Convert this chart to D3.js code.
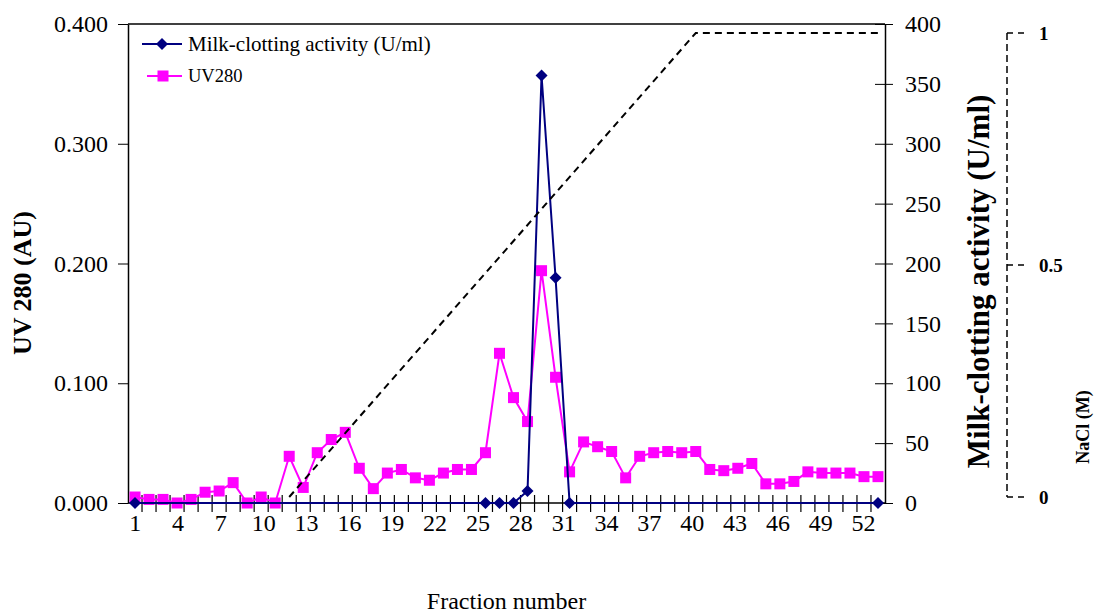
<!DOCTYPE html>
<html>
<head>
<meta charset="utf-8">
<script src="https://cdn.jsdelivr.net/npm/d3@7"></script>
<style>
  body { margin: 0; background: #fff; }
  svg { display: block; font-family: 'Liberation Serif', 'Times New Roman', serif; }
</style>
</head>
<body>
<svg id="chart"></svg>
<script>
// fraction numbers on the x axis
const fractions = [1, 2, 3, 4, 5, 6, 7, 8, 9, 10, 11, 12, 13, 14, 15, 16, 17, 18,
  19, 20, 21, 22, 23, 24, 25, 26, 27, 28, 29, 30, 31, 32, 33, 34, 35, 36,
  37, 38, 39, 40, 41, 42, 43, 44, 45, 46, 47, 48, 49, 50, 51, 52, 53, 54]
const xLabels = [1, 4, 7, 10, 13, 16, 19, 22, 25, 28, 31, 34, 37, 40, 43, 46, 49, 52]

// UV 280 (AU), one per fraction
const uv280 = [0.005, 0.003, 0.003, 0.000, 0.003, 0.009, 0.010, 0.017, 0.000, 0.005,
  0.000, 0.039, 0.013, 0.042, 0.053, 0.059, 0.029, 0.012, 0.025, 0.028,
  0.021, 0.019, 0.025, 0.028, 0.028, 0.042, 0.125, 0.088, 0.068, 0.194,
  0.105, 0.026, 0.051, 0.047, 0.043, 0.021, 0.039, 0.042, 0.043, 0.042,
  0.043, 0.028, 0.027, 0.029, 0.033, 0.016, 0.016, 0.018, 0.026, 0.025,
  0.025, 0.025, 0.022, 0.022]

// milk-clotting activity (U/ml), only measured fractions
const milkFractions = [1, 26, 27, 28, 29, 30, 31, 32, 54]
const milkActivity = [0, 0, 0, 0, 10, 357, 188, 0, 0]

// NaCl gradient (M)
const naclFractions = [12, 41, 54]
const naclConc = [0, 1, 1]

const uvTicks = [0, 0.1, 0.2, 0.3, 0.4]
const milkTicks = [0, 50, 100, 150, 200, 250, 300, 350, 400]
const naclTicks = [0, 0.5, 1]

const width = 1094
const height = 615
const plotLeft = 128
const plotRight = 885
const plotTop = 24
const plotBottom = 503

const svg = d3.select('#chart').attr('width', width).attr('height', height)

const x = d3.scaleBand().domain(fractions).range([plotLeft, plotRight])
const xLab = d3.scaleBand().domain(fractions.slice(0, 53)).range([plotLeft, plotRight])
const cx = (f) => x(f) + x.bandwidth() / 2

const yUV = d3.scaleLinear().domain([0, 0.4]).range([plotBottom, plotTop])
const yMilk = d3.scaleLinear().domain([0, 400]).range([plotBottom, plotTop])
const yNaCl = d3.scaleLinear().domain([0, 1]).range([497, 33])

// top border
svg.append('line')
  .attr('x1', plotLeft).attr('x2', plotRight)
  .attr('y1', yUV(0.4)).attr('y2', yUV(0.4))
  .attr('stroke', '#000').attr('stroke-width', 1.5)

// left axis
const leftAxis = svg.append('g')
  .attr('transform', `translate(${plotLeft},0)`)
  .call(d3.axisLeft(yUV).tickValues(uvTicks).tickFormat(d3.format('.3f'))
    .tickSize(10).tickSizeOuter(0).tickPadding(10))
leftAxis.select('.domain').attr('stroke-width', 1.5)
leftAxis.selectAll('text').attr('font-size', 24).attr('font-family', 'Liberation Serif').attr('fill', '#000')

// right axis
const rightAxis = svg.append('g')
  .attr('transform', `translate(${plotRight},0)`)
  .call(d3.axisRight(yMilk).tickValues(milkTicks).tickSize(8).tickSizeOuter(0))
rightAxis.select('.domain').attr('stroke-width', 1.5)
rightAxis.selectAll('.tick line').attr('x1', -10)
rightAxis.selectAll('text').attr('x', 20).attr('font-size', 24)
  .attr('font-family', 'Liberation Serif').attr('fill', '#000')

// x axis line and boundary ticks
svg.append('line')
  .attr('x1', plotLeft).attr('x2', plotRight)
  .attr('y1', plotBottom).attr('y2', plotBottom)
  .attr('stroke', '#000').attr('stroke-width', 1.5)
svg.append('g')
  .selectAll('line')
  .data(fractions.slice(1))
  .join('line')
  .attr('x1', (d) => x(d)).attr('x2', (d) => x(d))
  .attr('y1', plotBottom - 8).attr('y2', plotBottom + 9)
  .attr('stroke', '#000').attr('stroke-width', 1.2)

const xAxis = svg.append('g')
  .attr('transform', `translate(0,${plotBottom + 9})`)
  .call(d3.axisBottom(xLab).tickValues(xLabels).tickSize(0).tickPadding(2))
xAxis.select('.domain').remove()
xAxis.selectAll('text').attr('font-size', 24).attr('font-family', 'Liberation Serif').attr('fill', '#000')

// axis titles
svg.append('text')
  .attr('transform', 'translate(31,283) rotate(-90)')
  .attr('text-anchor', 'middle')
  .attr('font-size', 26).attr('font-weight', 'bold')
  .text('UV 280 (AU)')

svg.append('text')
  .attr('transform', `translate(989,${(plotTop + plotBottom) / 2 + 18}) rotate(-90)`)
  .attr('text-anchor', 'middle')
  .attr('font-size', 31).attr('font-weight', 'bold')
  .text('Milk-clotting activity (U/ml)')

svg.append('text')
  .attr('x', (plotLeft + plotRight) / 2).attr('y', 609)
  .attr('text-anchor', 'middle')
  .attr('font-size', 24)
  .text('Fraction number')

// NaCl axis
const naclAxisX = 1007
svg.append('line')
  .attr('x1', naclAxisX).attr('x2', naclAxisX)
  .attr('y1', yNaCl(1)).attr('y2', yNaCl(0))
  .attr('stroke', '#000').attr('stroke-width', 1.5)
  .attr('stroke-dasharray', '7,4')
const naclTick = svg.append('g')
  .selectAll('g')
  .data(naclTicks)
  .join('g')
  .attr('transform', (d) => `translate(${naclAxisX},${yNaCl(d)})`)
naclTick.append('line')
  .attr('x1', 0).attr('x2', 22)
  .attr('stroke', '#000').attr('stroke-width', 1.5)
  .attr('stroke-dasharray', '6,5')
naclTick.append('text')
  .attr('x', 32).attr('dy', '0.35em')
  .attr('font-size', 19).attr('font-weight', 'bold')
  .text((d) => d)

svg.append('text')
  .attr('transform', `translate(1089,427) rotate(-90)`)
  .attr('text-anchor', 'middle')
  .attr('font-size', 18).attr('font-weight', 'bold')
  .text('NaCl (M)')

// UV280 series
const uvData = fractions.map((f, i) => ({ f, v: uv280[i] }))
svg.append('path')
  .datum(uvData)
  .attr('fill', 'none')
  .attr('stroke', '#ff00ff')
  .attr('stroke-width', 2)
  .attr('d', d3.line().x((d) => cx(d.f)).y((d) => yUV(d.v)))
svg.append('g')
  .selectAll('rect')
  .data(uvData)
  .join('rect')
  .attr('x', (d) => cx(d.f) - 5.5)
  .attr('y', (d) => yUV(d.v) - 5.5)
  .attr('width', 11).attr('height', 11)
  .attr('fill', '#ff00ff')

// milk-clotting series
const diamond = 'M0,-6L6,0L0,6L-6,0Z'
const milkData = milkFractions.map((f, i) => ({ f, v: milkActivity[i] }))
svg.append('path')
  .datum(milkData)
  .attr('fill', 'none')
  .attr('stroke', '#000080')
  .attr('stroke-width', 2)
  .attr('d', d3.line().x((d) => cx(d.f)).y((d) => yMilk(d.v)))
svg.append('g')
  .selectAll('path')
  .data(milkData)
  .join('path')
  .attr('transform', (d) => `translate(${cx(d.f)},${yMilk(d.v)})`)
  .attr('d', diamond)
  .attr('fill', '#000080')

// NaCl gradient
const naclData = naclFractions.map((f, i) => ({ f, v: naclConc[i] }))
svg.append('path')
  .datum(naclData)
  .attr('fill', 'none')
  .attr('stroke', '#000')
  .attr('stroke-width', 2)
  .attr('stroke-dasharray', '7,5')
  .attr('d', d3.line().x((d) => cx(d.f)).y((d) => yNaCl(d.v)))

// legend
const legend = svg.append('g').attr('font-size', 21)
const lg1 = legend.append('g').attr('transform', 'translate(142,44)')
lg1.append('line').attr('x1', 0).attr('x2', 40)
  .attr('stroke', '#000080').attr('stroke-width', 2)
lg1.append('path').attr('transform', 'translate(20,0)').attr('d', diamond).attr('fill', '#000080')
lg1.append('text').attr('x', 46).attr('dy', '0.35em').text('Milk-clotting activity (U/ml)')

const lg2 = legend.append('g').attr('transform', 'translate(147,76)')
lg2.append('line').attr('x1', 0).attr('x2', 35)
  .attr('stroke', '#ff00ff').attr('stroke-width', 2)
lg2.append('rect').attr('x', 10.5).attr('y', -5.5).attr('width', 11).attr('height', 11).attr('fill', '#ff00ff')
lg2.append('text').attr('x', 41).attr('dy', '0.35em').attr('font-size', 18.5).text('UV280')
</script>
</body>
</html>
